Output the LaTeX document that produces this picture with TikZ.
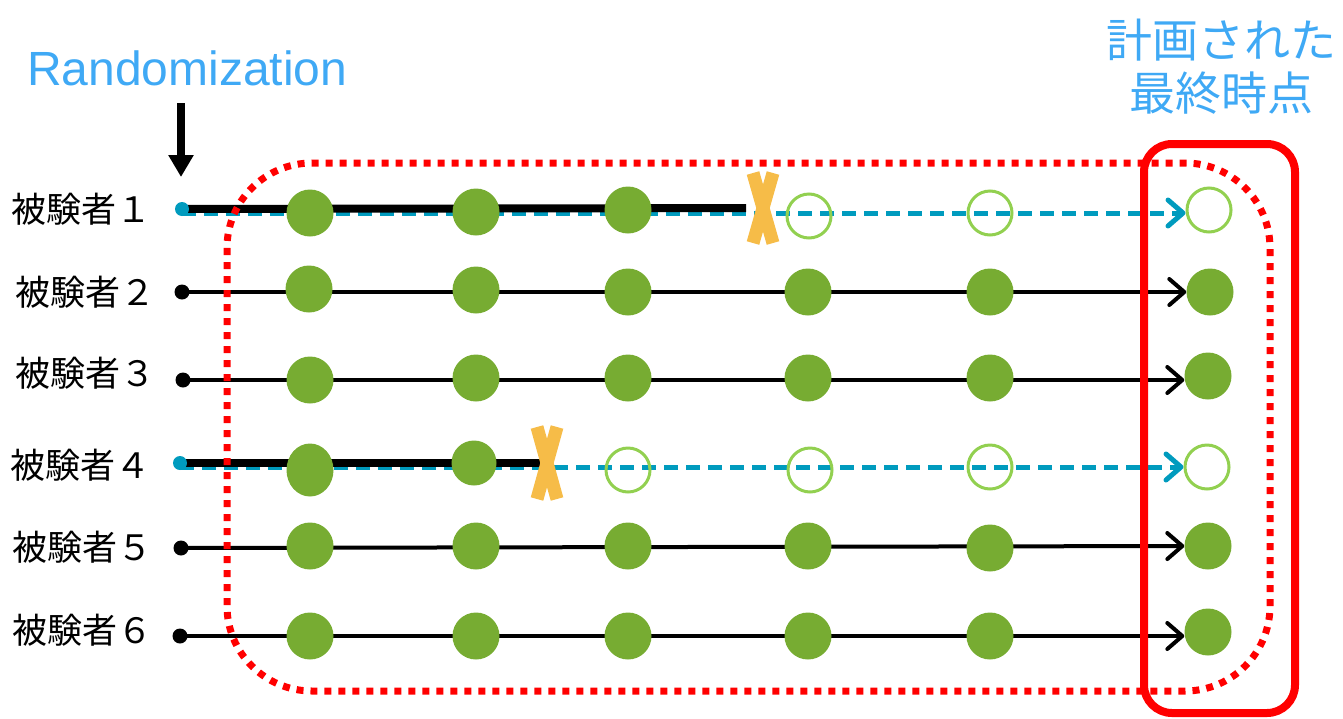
\documentclass[tikz,border=0pt]{standalone}
\usepackage{fontspec}
\setmainfont{Liberation Sans}
\newfontfamily\jpfont{Noto Sans CJK JP}
\usetikzlibrary{arrows.meta,backgrounds,shapes.geometric}

\definecolor{leaf}{RGB}{119,172,50}
\definecolor{ring}{RGB}{146,208,80}
\definecolor{dropblue}{RGB}{0,155,190}
\definecolor{skyblue}{RGB}{63,169,245}
\definecolor{xorange}{RGB}{246,188,72}

\begin{document}
\begin{tikzpicture}[x=1pt,y=-1pt,
  visit/.style={circle,fill=leaf,minimum size=47pt,inner sep=0pt},
  missed/.style={circle,draw=ring,line width=3pt,minimum size=44pt,inner sep=0pt},
  startdot/.style={circle,fill=black,minimum size=15pt,inner sep=0pt},
  lostdot/.style={circle,fill=dropblue,minimum size=14pt,inner sep=0pt},
  track/.style={black,line width=4pt,-{Straight Barb[length=15pt,width=26pt,round]}},
  cut/.style={black,line width=8pt},
  follow/.style={dropblue,line width=5pt,dash pattern=on 14pt off 8pt,
                 -{Straight Barb[length=15pt,width=26pt,round]}},
  xstroke/.style={xorange,line width=13pt},
  subject/.style={font=\jpfont\fontsize{35}{35}\selectfont,anchor=west,inner sep=0pt},
  title/.style={text=skyblue,font=\jpfont\fontsize{46}{46}\selectfont,inner sep=0pt},
]
\useasboundingbox (0,0) rectangle (1343,718);

% headings
\node[text=skyblue,font=\fontsize{48}{48}\selectfont,anchor=base west,inner sep=0pt]
  (rand) at (27,85) {Randomization};
\node[title] (plan1) at (1221,40) {計画された};
\node[title] (plan2) at (1221,93) {最終時点};

% randomization arrow
\coordinate (rtail) at (181,103);
\coordinate (rhead) at (181,177);
\draw[black,line width=8pt,-{Triangle[length=22pt,width=24pt]}] (rtail) -- (rhead);

% subject labels
\node[subject] (l1) at (11,209) {被験者１};
\node[subject] (l2) at (15,292) {被験者２};
\node[subject] (l3) at (15,373) {被験者３};
\node[subject] (l4) at (10,465) {被験者４};
\node[subject] (l5) at (12,547) {被験者５};
\node[subject] (l6) at (12,630) {被験者６};

% subject 1 (drops out after the third visit)
\node[lostdot] (a0) at (182,209) {};
\node[visit] (a1) at (310,213) {};
\node[visit] (a2) at (476,212) {};
\node[visit] (a3) at (628,210) {};
\node[missed] (a4) at (809,216) {};
\node[missed] (a5) at (990,213) {};
\node[missed] (a6) at (1209,210) {};
\coordinate (aend) at (746,208);
\coordinate (ax) at (763,208);

% subject 2
\node[startdot] (b0) at (182,292) {};
\node[visit] (b1) at (309,289) {};
\node[visit] (b2) at (476,290) {};
\node[visit] (b3) at (628,292) {};
\node[visit] (b4) at (808,292) {};
\node[visit] (b5) at (990,292) {};
\node[visit] (b6) at (1210,292) {};

% subject 3
\node[startdot] (c0) at (183,380) {};
\node[visit] (c1) at (310,380) {};
\node[visit] (c2) at (476,378) {};
\node[visit] (c3) at (628,378) {};
\node[visit] (c4) at (808,378) {};
\node[visit] (c5) at (990,378) {};
\node[visit] (c6) at (1208,376) {};

% subject 4 (drops out after the second visit)
\node[lostdot] (d0) at (180,463) {};
\node[visit,ellipse,minimum width=47pt,minimum height=53pt] (d1) at (310,470) {};
\node[visit,minimum size=45pt] (d2) at (474,463) {};
\node[missed] (d3) at (628,470) {};
\node[missed] (d4) at (810,470) {};
\node[missed] (d5) at (990,467) {};
\node[missed] (d6) at (1207,467) {};
\coordinate (dend) at (540,463);
\coordinate (dx) at (547,463);

% subject 5
\node[startdot] (e0) at (181,548) {};
\node[visit] (e1) at (310,546) {};
\node[visit] (e2) at (476,546) {};
\node[visit] (e3) at (628,546) {};
\node[visit] (e4) at (808,546) {};
\node[visit] (e5) at (990,548) {};
\node[visit] (e6) at (1208,546) {};

% subject 6
\node[startdot] (f0) at (180,636) {};
\node[visit] (f1) at (310,636) {};
\node[visit] (f2) at (476,636) {};
\node[visit] (f3) at (628,636) {};
\node[visit] (f4) at (808,636) {};
\node[visit] (f5) at (990,636) {};
\node[visit] (f6) at (1208,632) {};

% timelines behind the visit markers
\begin{pgfonlayer}{background}
  \draw[follow] ([yshift=-4pt]a0.center) -- ([yshift=-3pt]a6.west);
  \draw[cut] (a0.center) -- (aend);
  \draw[track] (b0.center) -- (b6.west);
  \draw[track] (c0.center) -- (c6.west |- c0.center);
  \draw[follow] ([yshift=-4pt]d0.center) -- (d6.west);
  \draw[cut] (d0.center) -- (dend);
  \draw[track] (e0.center) -- (e6.west);
  \draw[track] (f0.center) -- (f6.west |- f0.center);
\end{pgfonlayer}

% dropout crosses
\draw[xstroke] ([shift={(-10,-35)}]ax) -- ([shift={(10,35)}]ax);
\draw[xstroke] ([shift={(10,-35)}]ax) -- ([shift={(-10,35)}]ax);
\draw[xstroke] ([shift={(-10,-36)}]dx) -- ([shift={(10,36)}]dx);
\draw[xstroke] ([shift={(10,-36)}]dx) -- ([shift={(-10,36)}]dx);

% analysis window and final time point frame
\draw[red,line width=7pt,dash pattern=on 7pt off 7pt,rounded corners=85pt]
  (227,163) rectangle (1270,691);
\draw[red,line width=8pt,rounded corners=28pt] (1144,144) rectangle (1295,713);
\end{tikzpicture}
\end{document}
